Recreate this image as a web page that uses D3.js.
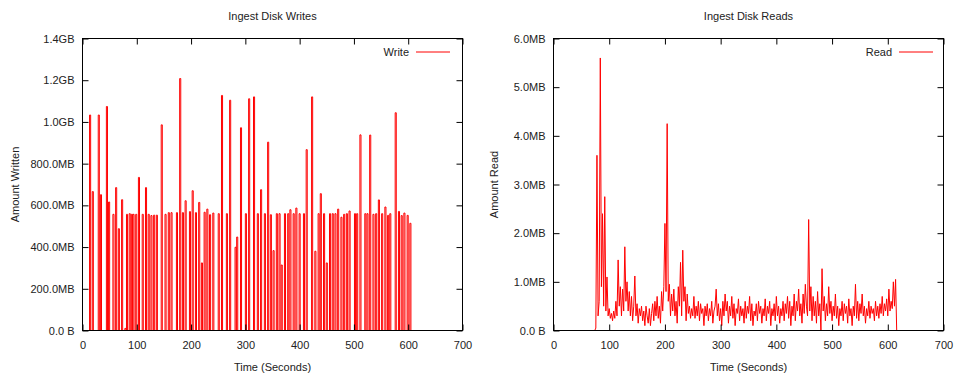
<!DOCTYPE html>
<html>
<head>
<meta charset="utf-8">
<script src="https://cdn.jsdelivr.net/npm/d3@7"></script>
<style>
  html, body { margin: 0; padding: 0; background: #fff; }
  svg { display: block; font-family: "Liberation Sans", Arial, sans-serif; }
  text { fill: #222; font-size: 11px; }
</style>
</head>
<body>
<svg id="chart" width="957" height="374"></svg>
<script>
// ---------------- Data ----------------
const xTicks = [0, 100, 200, 300, 400, 500, 600, 700];

// Writes: burst start times (s) and amount written (MB)
const writeTimes = [13, 18, 29, 33, 44, 48, 56, 61, 66, 72, 78, 81, 86, 90, 93, 98, 103, 110, 116, 121,
  126, 131, 136, 145, 152, 158, 163, 173, 179, 184, 189, 197, 202, 208, 214, 219, 224, 229, 234, 240,
  250, 256, 265, 271, 281, 284, 291, 300, 306, 315, 322, 328, 335, 341, 346, 351, 357, 362, 366, 372,
  378, 382, 388, 393, 399, 407, 412, 422, 428, 434, 438, 444, 449, 455, 460, 465, 470, 476, 481, 486,
  491, 501, 505, 511, 520, 524, 529, 535, 540, 545, 551, 557, 562, 566, 576, 582, 587, 592, 598, 603];
const writeValues = [1033, 666, 1033, 651, 1074, 616, 557, 685, 488, 627, 10, 557, 560, 557, 557, 557, 734, 557, 685, 557,
  551, 553, 553, 986, 557, 565, 565, 565, 1208, 565, 622, 570, 670, 565, 614, 324, 567, 582, 555, 563,
  560, 1127, 560, 1104, 399, 448, 972, 560, 1111, 1120, 560, 675, 560, 903, 555, 383, 560, 560, 314, 560,
  560, 579, 560, 587, 560, 560, 867, 1120, 380, 560, 656, 560, 324, 560, 560, 560, 582, 543, 557, 560,
  573, 560, 560, 938, 560, 560, 937, 557, 560, 626, 560, 592, 552, 560, 1044, 571, 551, 563, 552, 514];
const writeBurstLength = 2; // seconds each burst lasts
const writeYTicks = [0, 200, 400, 600, 800, 1000, 1200, 1400];
const writeYLabels = ["0.0 B", "200.0MB", "400.0MB", "600.0MB", "800.0MB", "1.0GB", "1.2GB", "1.4GB"];

// Reads: sampled every 2 s from 74 s (MB); zero before
const readStart = 74, readStep = 2;
const readValues = [
  0, 0.05, 3.6, 0.3, 0.6, 5.6, 0.9, 2.4, 0.5, 2.75, 0.4, 1.1, 0.3, 0.45, 0.25, 0.35, 0.2, 0.4, 0.25, 0.6,
  0.3, 1.45, 0.5, 0.9, 0.3, 0.85, 0.4, 1.72, 0.6, 1.0, 0.4, 0.8, 0.3, 0.7, 0.2, 0.5, 1.12, 0.3, 0.55, 0.15,
  0.45, 0.3, 0.5, 0.2, 0.4, 0.1, 0.5, 0.3, 0.15, 0.45, 0.1, 0.35, 0.55, 0.2, 0.6, 0.3, 0.7, 0.25, 0.5, 0.15,
  0.8, 0.4, 0.9, 2.2, 0.8, 4.25, 0.6, 0.95, 0.3, 0.75, 0.4, 0.85, 0.3, 0.6, 0.15, 0.9, 0.5, 1.4, 0.3, 1.65,
  0.6, 0.9, 0.2, 0.75, 0.35, 0.5, 0.25, 0.45, 0.3, 0.7, 0.25, 0.5, 0.3, 0.6, 0.2, 0.55, 0.35, 0.45, 0.1, 0.5,
  0.3, 0.55, 0.2, 0.45, 0.3, 0.6, 0.15, 0.4, 0.5, 0.85, 0.3, 0.55, 0.2, 0.45, 0.1, 0.6, 0.3, 0.75, 0.4, 0.6,
  0.15, 0.5, 0.3, 0.7, 0.25, 0.55, 0.1, 0.45, 0.35, 0.65, 0.2, 0.5, 0.3, 0.45, 0.15, 0.6, 0.25, 0.5, 0.35, 0.7,
  0.2, 0.55, 0.1, 0.4, 0.3, 0.55, 0.2, 0.6, 0.35, 0.5, 0.15, 0.45, 0.3, 0.65, 0.2, 0.5, 0.35, 0.6, 0.1, 0.45,
  0.3, 0.55, 0.2, 0.7, 0.3, 0.5, 0.15, 0.45, 0.3, 0.6, 0.2, 0.55, 0.35, 0.7, 0.25, 0.6, 0.1, 0.5, 0.3, 0.75,
  0.2, 0.6, 0.4, 0.85, 0.3, 0.55, 0.15, 0.75, 0.35, 0.95, 0.5, 0.3, 2.28, 0.4, 0.9, 0.2, 0.7, 0.3, 0.6, 0.15,
  0.8, 0.3, 0.55, 0.0, 1.27, 0.4, 0.7, 0.2, 0.55, 0.3, 0.9, 0.35, 0.6, 0.2, 0.5, 0.3, 0.75, 0.25, 0.5, 0.1,
  0.45, 0.3, 0.6, 0.2, 0.55, 0.35, 0.5, 0.15, 0.65, 0.3, 0.45, 0.1, 0.5, 0.3, 0.95, 0.25, 0.6, 0.2, 0.55, 0.35,
  0.75, 0.3, 0.5, 0.15, 0.45, 0.3, 0.6, 0.25, 0.5, 0.35, 0.45, 0.2, 0.6, 0.3, 0.5, 0.25, 0.55, 0.35, 0.7, 0.3,
  0.55, 0.4, 0.65, 0.3, 0.85, 0.4, 0.6, 0.45, 1.0, 0.5, 1.05, 0
];
const readYTicks = [0, 1, 2, 3, 4, 5, 6];
const readYLabels = ["0.0 B", "1.0MB", "2.0MB", "3.0MB", "4.0MB", "5.0MB", "6.0MB"];

// ---------------- Build series ----------------
const writeSeries = [{ t: 0, v: 0 }];
writeTimes.forEach((t, i) => {
  writeSeries.push({ t: t, v: 0 }, { t: t, v: writeValues[i] },
    { t: t + writeBurstLength, v: writeValues[i] }, { t: t + writeBurstLength, v: 0 });
});
writeSeries.push({ t: writeTimes[writeTimes.length - 1] + writeBurstLength + 1, v: 0 });

const readSeries = [{ t: 0, v: 0 }].concat(readValues.map((v, i) => ({ t: readStart + i * readStep, v: v })));

// ---------------- Drawing ----------------
const svg = d3.select("#chart");

function panel(opts) {
  const { left, right, top, bottom, yMax, yTicks, yLabels, series, title, yTitle, yTitleOffset, legend, legendX, clipId } = opts;
  const x = d3.scaleLinear().domain([0, 700]).range([left, right]);
  const y = d3.scaleLinear().domain([0, yMax]).range([bottom, top]);
  const g = svg.append("g");

  g.append("clipPath").attr("id", clipId).append("rect")
    .attr("x", left).attr("y", top).attr("width", right - left).attr("height", bottom - top);

  const line = d3.line().x(d => x(d.t)).y(d => y(d.v));
  g.append("path").datum(series)
    .attr("clip-path", `url(#${clipId})`)
    .attr("fill", "none").attr("stroke", "#ff0000").attr("stroke-width", 1)
    .attr("d", line);

  const tickLen = 6;
  const xb = g.append("g").attr("transform", `translate(0,${bottom})`)
    .call(d3.axisBottom(x).tickValues(xTicks).tickSize(-tickLen).tickPadding(11).tickFormat(d3.format("d")));
  const xt = g.append("g").attr("transform", `translate(0,${top})`)
    .call(d3.axisTop(x).tickValues(xTicks).tickSize(-tickLen).tickFormat(""));
  const yl = g.append("g").attr("transform", `translate(${left},0)`)
    .call(d3.axisLeft(y).tickValues(yTicks).tickSize(-tickLen).tickPadding(8).tickFormat((d, i) => yLabels[i]));
  const yr = g.append("g").attr("transform", `translate(${right},0)`)
    .call(d3.axisRight(y).tickValues(yTicks).tickSize(-tickLen).tickFormat(""));
  [xb, xt, yl, yr].forEach(a => {
    a.select(".domain").remove();
    a.selectAll("line").attr("stroke", "#000");
    a.selectAll("text").attr("font-size", 11).attr("fill", "#222").attr("font-family", "Liberation Sans, Arial, sans-serif");
  });

  g.append("rect").attr("x", left).attr("y", top).attr("width", right - left).attr("height", bottom - top)
    .attr("fill", "none").attr("stroke", "#000").attr("stroke-width", 1);

  g.append("text").attr("x", (left + right) / 2).attr("y", 20).attr("text-anchor", "middle").text(title);
  g.append("text").attr("x", (left + right) / 2).attr("y", 371).attr("text-anchor", "middle").text("Time (Seconds)");
  g.append("text").attr("transform", `translate(${left - yTitleOffset},${(top + bottom) / 2}) rotate(-90)`)
    .attr("text-anchor", "middle").text(yTitle);

  g.append("text").attr("x", legendX).attr("y", 56).attr("text-anchor", "end").text(legend);
  g.append("line").attr("x1", legendX + 7).attr("x2", legendX + 41).attr("y1", 52).attr("y2", 52)
    .attr("stroke", "#ff0000").attr("stroke-width", 1);
}

panel({ left: 82.5, right: 462.5, top: 38.5, bottom: 330.5, yMax: 1400, yTicks: writeYTicks, yLabels: writeYLabels,
  series: writeSeries, title: "Ingest Disk Writes", yTitle: "Amount Written", yTitleOffset: 64, legend: "Write", legendX: 409, clipId: "c1" });
panel({ left: 553.5, right: 943.5, top: 38.5, bottom: 330.5, yMax: 6, yTicks: readYTicks, yLabels: readYLabels,
  series: readSeries, title: "Ingest Disk Reads", yTitle: "Amount Read", yTitleOffset: 56, legend: "Read", legendX: 892, clipId: "c2" });
</script>
</body>
</html>
